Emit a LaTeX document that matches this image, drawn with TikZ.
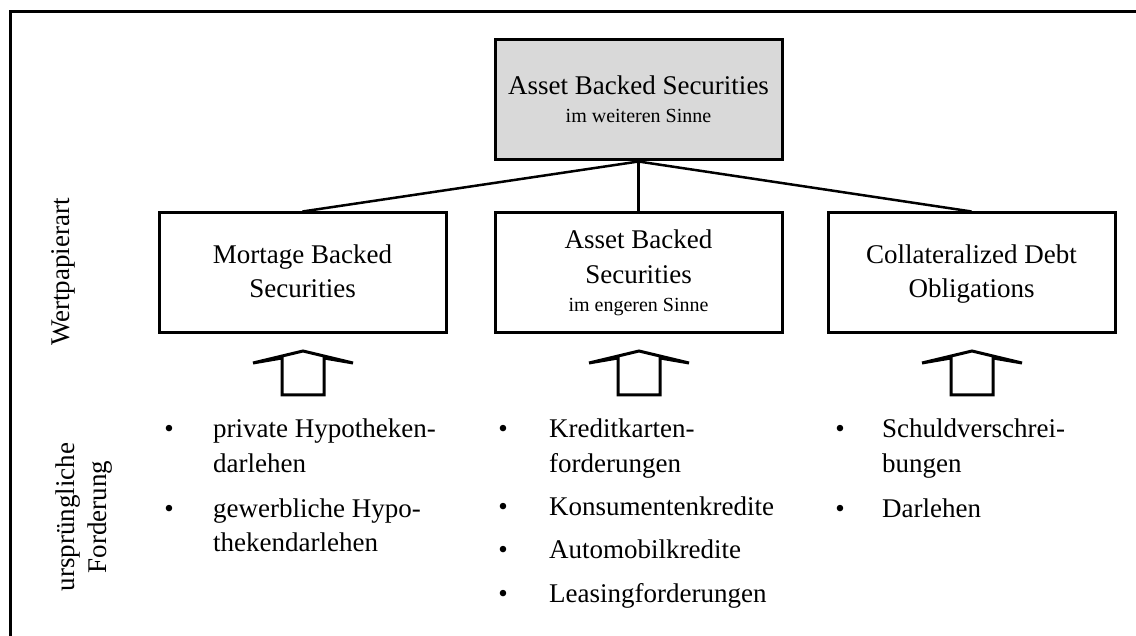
\documentclass[tikz,border=0pt]{standalone}
\usepackage{fontspec}
\setmainfont{Liberation Serif}
\begin{document}
\begin{tikzpicture}[x=1pt,y=-1pt,
  box/.style={draw, line width=3pt, minimum width=287pt, minimum height=120pt, inner sep=0pt},
  big/.style={font=\fontsize{27}{32}\selectfont, inner sep=0pt, anchor=base},
  small/.style={font=\fontsize{20}{24}\selectfont, inner sep=0pt, anchor=base},
  item/.style={font=\fontsize{27}{32}\selectfont, inner sep=0pt, anchor=base west},
  bullet/.style={font=\fontsize{27}{32}\selectfont, inner sep=0pt, anchor=base},
  link/.style={line width=2.5pt},
  side/.style={font=\fontsize{27}{32}\selectfont, rotate=90, align=center, inner sep=0pt},
  hollowup/.pic={
    \draw[line width=3pt, line join=miter]
      (0,-44) -- (50,-32) -- (21,-37) -- (21,0) -- (-21,0) -- (-21,-37) -- (-50,-32) -- cycle;
  }
]
\useasboundingbox (0,0) rectangle (1136,636);
\fill[white] (0,0) rectangle (1136,636);

% frame: top and left edges
\draw[line width=3pt] (1136,12) -- (10,12) -- (10,636);

% side labels
\node[side] (lblart) at (63,272) {Wertpapierart};
\node[side] (lblford) at (84,517) {ursprüngliche\\Forderung};

% boxes
\node[box, fill=black!15] (top) at (638.5,100) {};
\node[box] (mbs) at (302.5,273) {};
\node[box] (abs) at (638.5,273) {};
\node[box] (cdo) at (971.5,273) {};

% box texts
\node[big] (t1) at (638.5,95) {Asset Backed Securities};
\node[small] (t2) at (638.5,123) {im weiteren Sinne};
\node[big] (m1) at (302.5,264) {Mortage Backed};
\node[big] (m2) at (302.5,298) {Securities};
\node[big] (a1) at (638.5,249) {Asset Backed};
\node[big] (a2) at (638.5,284) {Securities};
\node[small] (a3) at (638.5,312) {im engeren Sinne};
\node[big] (c1) at (971.5,264) {Collateralized Debt};
\node[big] (c2) at (971.5,298) {Obligations};

% connectors
\draw[link] (top.south) -- (mbs.north);
\draw[link] (top.south) -- (abs.north);
\draw[link] (top.south) -- (cdo.north);

% hollow arrows
\pic at (303,395) {hollowup};
\pic at (639,395) {hollowup};
\pic at (972,395) {hollowup};

% left list
\node[bullet] (lb1) at (169,437) {•};
\node[bullet] (lb2) at (169,517) {•};
\node[item] (l1) at (213,437) {private Hypotheken-};
\node[item] (l2) at (213,472) {darlehen};
\node[item] (l3) at (213,517) {gewerbliche Hypo-};
\node[item] (l4) at (213,551) {thekendarlehen};

% middle list
\node[bullet] (mb1) at (503,438) {•};
\node[bullet] (mb2) at (503,515) {•};
\node[bullet] (mb3) at (503,558) {•};
\node[bullet] (mb4) at (503,602) {•};
\node[item] (k1) at (549,438) {Kreditkarten-};
\node[item] (k2) at (549,472) {forderungen};
\node[item] (k3) at (549,515) {Konsumentenkredite};
\node[item] (k4) at (549,558) {Automobilkredite};
\node[item] (k5) at (549,602) {Leasingforderungen};

% right list
\node[bullet] (rb1) at (840,437) {•};
\node[bullet] (rb2) at (840,517) {•};
\node[item] (r1) at (882,437) {Schuldverschrei-};
\node[item] (r2) at (882,472) {bungen};
\node[item] (r3) at (882,517) {Darlehen};
\end{tikzpicture}
\end{document}
